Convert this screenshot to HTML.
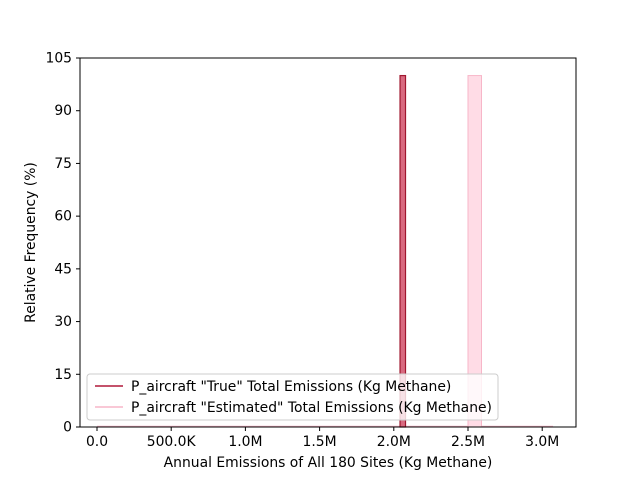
<!DOCTYPE html>
<html><head><meta charset="utf-8"><style>
body{margin:0;background:#fff}
svg text{font-family:"DejaVu Sans","Liberation Sans",sans-serif;font-size:13.9px;fill:#000}
</style></head><body>
<svg width="640" height="480" viewBox="0 0 640 480">
<rect width="640" height="480" fill="#fff"/>
<g id="marks"></g>
<rect x="80" y="58" width="496" height="369" fill="none" stroke="#000" stroke-width="1"/>
<g id="axes"></g>
<text x="328" y="467" text-anchor="middle">Annual Emissions of All 180 Sites (Kg Methane)</text>
<text transform="translate(35,242.5) rotate(-90)" text-anchor="middle">Relative Frequency (%)</text>
<g>
<rect x="87" y="374" width="411" height="46" rx="3" fill="#fff" fill-opacity="0.8" stroke="#ccc"/>
<line x1="95" y1="386" x2="123" y2="386" stroke="#b0193a" stroke-width="1.5"/>
<text x="131" y="391">P_aircraft "True" Total Emissions (Kg Methane)</text>
<line x1="95" y1="407" x2="123" y2="407" stroke="#f7b6c8" stroke-width="1.5"/>
<text x="131" y="412">P_aircraft "Estimated" Total Emissions (Kg Methane)</text>
</g>
</svg>
<script>
const trueBinStart = [2042000];
const trueBinEnd = [2079000];
const trueValues = [100];
const estBinStart = [2500000];
const estBinEnd = [2591000];
const estValues = [100];
const zeroLineEnd = 3073000;
const xTickValues = [0, 500000, 1000000, 1500000, 2000000, 2500000, 3000000];
const xTickLabels = ["0.0", "500.0K", "1.0M", "1.5M", "2.0M", "2.5M", "3.0M"];
const yTickValues = [0, 15, 30, 45, 60, 75, 90, 105];

const NS = "http://www.w3.org/2000/svg";
const xs = v => 97 + v * (74.2 / 500000);
const ys = v => 427 - v * (369 / 105);
function mk(tag, attrs, parent){const e=document.createElementNS(NS,tag);for(const k in attrs)e.setAttribute(k,attrs[k]);parent.appendChild(e);return e;}
const marks=document.getElementById('marks'), axes=document.getElementById('axes');

const zl = mk('line',{x1:xs(0),x2:xs(zeroLineEnd),y1:426.5,y2:426.5,stroke:'#f7b6c8','stroke-width':1.5},marks);



estValues.forEach((v,i)=>{
  const r=mk('rect',{x:xs(estBinStart[i]),y:ys(v),width:xs(estBinEnd[i])-xs(estBinStart[i]),height:ys(0)-ys(v),fill:'#ffdce6',stroke:'#f7b6c8','stroke-width':1},marks);
  
  
});
trueValues.forEach((v,i)=>{
  const r=mk('rect',{x:xs(trueBinStart[i]),y:ys(v),width:xs(trueBinEnd[i])-xs(trueBinStart[i]),height:ys(0)-ys(v),fill:'#d86a80',stroke:'#a0172f','stroke-width':1.2},marks);
  
  
});

xTickValues.forEach((v,i)=>{
  const x=xs(v);
  const t=mk('line',{x1:x,x2:x,y1:427,y2:431,stroke:'#000'},axes);
  
  
  const l=mk('text',{x:x,y:446,'text-anchor':'middle'},axes);
  l.textContent=xTickLabels[i];
  
  
});
yTickValues.forEach(v=>{
  const y=ys(v);
  const t=mk('line',{x1:76,x2:80,y1:y,y2:y,stroke:'#000'},axes);
  
  
  const l=mk('text',{x:72,y:y+4.5,'text-anchor':'end'},axes);
  l.textContent=String(v);
  
  
});
</script>
</body></html>
